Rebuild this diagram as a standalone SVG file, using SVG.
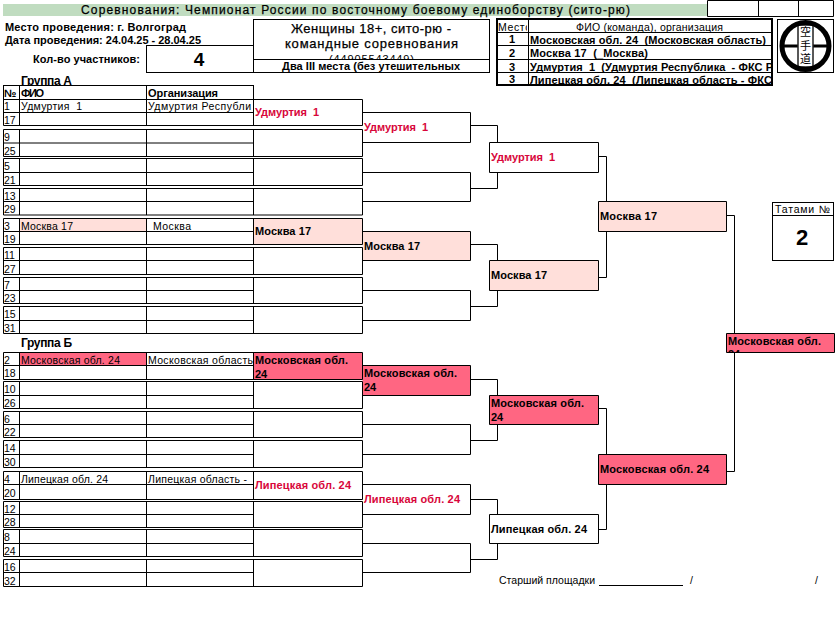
<svg xmlns="http://www.w3.org/2000/svg" width="837" height="631" viewBox="0 0 837 631">
<style>
text{font-family:"Liberation Sans",Arial,sans-serif;font-size:10.5px;fill:#000;white-space:pre}
.b{font-weight:bold;font-size:11px}
.w{fill:#d8063a}
.g{fill:none;stroke:#000;stroke-width:1}
.t{fill:none;stroke:#000;stroke-width:2}
.box{fill:#fff;stroke:#000;stroke-width:1}
.p{fill:#ff6682}
.l{fill:#ffdfda}
.c{text-anchor:middle}
.m{font-size:13px;stroke:#000;stroke-width:.25}
.k{font-family:"Noto Sans CJK JP",sans-serif;font-size:11px;text-anchor:middle}
.h{font-size:12px;font-weight:bold}
</style>
<defs>
<clipPath id="cGroup"><rect x="0" y="70" width="253" height="15"/></clipPath>
<clipPath id="cId"><rect x="254" y="20" width="235" height="39"/></clipPath>
<clipPath id="cNote"><rect x="254" y="60" width="235" height="12"/></clipPath>
<clipPath id="cRes"><rect x="498" y="20" width="273" height="64"/></clipPath>
<clipPath id="cHead"><rect x="498" y="20" width="29" height="12"/></clipPath>
<clipPath id="cFinal"><rect x="727" y="334" width="107" height="18"/></clipPath>
</defs>

<g id="header">
<rect x="3" y="4" width="704" height="12" fill="#c0dcc0"/>
<text x="81" y="14" style="font-size:12px;stroke:#000;stroke-width:.25" textLength="549">Соревнования: Чемпионат России по восточному боевому единоборству (сито-рю)</text>
<path class="g" d="M707.500 .5H833.500V16.500H707.500ZM758.500 .5V16.500M798.500 .5V16.500"/>
<text class="b" x="5" y="31" textLength="181">Место проведения: г. Волгоград</text>
<text class="b" x="5" y="44" textLength="196">Дата проведения: 24.04.25 - 28.04.25</text>
<text class="b" x="33" y="63" textLength="107">Кол-во участников:</text>
</g>

<g id="count">
<rect class="box" x="146.500" y="45.500" width="107" height="27"/>
<text class="c" x="199" y="66" style="font-size:19px;font-weight:bold">4</text>
</g>

<g id="title">
<rect class="box" x="253.500" y="19.500" width="236" height="53"/>
<path class="g" d="M253.500 59.500H489.500"/>
<text class="m" x="291" y="33" textLength="160">Женщины 18+, сито-рю -</text>
<text class="m" x="285" y="48" textLength="173">командные соревнования</text>
<text x="329" y="63" clip-path="url(#cId)" style="font-size:11px" textLength="85">(44905543449)</text>
<text class="b" x="282" y="70" clip-path="url(#cNote)" textLength="178">Два III места (без утешительных</text>
</g>

<g id="results">
<rect x="497" y="19" width="275" height="66" fill="#fff"/>
<path class="g" d="M498 32.500H771M498 45.500H771M498 59.500H771M498 72.500H771M528.500 20V84"/>
<rect class="t" x="497" y="19" width="275" height="66"/>
<text x="498" y="31" clip-path="url(#cHead)" textLength="33">Место</text>
<text x="576" y="31" textLength="147">ФИО (команда), организация</text>
<text class="b c" x="512" y="43">1</text>
<text class="b" x="530" y="44" textLength="236">Московская обл. 24  (Московская область)</text>
<text class="b c" x="512" y="57">2</text>
<text class="b" x="530" y="57" textLength="118">Москва 17  (_Москва)</text>
<text class="b c" x="512" y="71">3</text>
<text class="b" x="530" y="71" clip-path="url(#cRes)" textLength="243">Удмуртия  1  (Удмуртия Республика  - ФКС Р</text>
<text class="b c" x="512" y="83">3</text>
<text class="b" x="530" y="84" clip-path="url(#cRes)" textLength="242">Липецкая обл. 24  (Липецкая область - ФКС</text>
</g>

<g id="logo">
<rect class="box" x="777.500" y="19.500" width="56" height="53"/>
<path d="M782 46H829" stroke="#000" stroke-width="3"/>
<rect x="798" y="25" width="15" height="42" fill="#fff" stroke="#222" stroke-width="1.500"/>
<circle cx="805.500" cy="46" r="23.500" fill="none" stroke="#000" stroke-width="5"/>
<text class="k" x="805.500" y="36">空</text>
<text class="k" x="805.500" y="49.500">手</text>
<text class="k" x="805.500" y="63">道</text>
</g>

<g id="tatami">
<rect class="box" x="772.500" y="202.500" width="61" height="58"/>
<path class="g" d="M772.500 215.500H833.500"/>
<text x="775" y="213" textLength="55">Татами №</text>
<text class="c" x="802" y="245" style="font-size:22px;font-weight:bold">2</text>
</g>

<g id="footer">
<text x="499" y="584" textLength="96">Старший площадки</text>
<path class="g" d="M599 585.500H683"/>
<text x="690" y="584">/</text>
<text x="815" y="584">/</text>
</g>

<g id="group-a">
<text class="h" x="21" y="84.500" clip-path="url(#cGroup)" textLength="51">Группа А</text>
<rect class="box" x="3.500" y="85.500" width="250" height="14"/>
<path class="g" d="M19.500 85.500V99.500M146.500 85.500V99.500"/>
<text class="b" x="4" y="97" textLength="14">№</text>
<text class="b" x="21" y="97" textLength="23">ФИО</text>
<text class="b" x="148" y="97" textLength="70">Организация</text>
</g>
<g id="group-b">
<text class="h" x="21" y="347" textLength="51">Группа Б</text>
</g>

<g id="fills">
<rect class="l" x="19.500" y="218.500" width="127" height="13"/>
<rect class="l" x="253.500" y="218.500" width="109" height="26"/>
<rect class="l" x="362.500" y="231.500" width="108" height="29"/>
<rect class="l" x="489.500" y="260.500" width="109" height="30"/>
<rect class="l" x="598.500" y="201.500" width="128" height="30"/>
<rect class="p" x="19.500" y="352.500" width="127" height="13"/>
<rect class="p" x="253.500" y="352.500" width="109" height="27"/>
<rect class="p" x="362.500" y="365.500" width="108" height="30"/>
<rect class="p" x="489.500" y="395.500" width="109" height="29"/>
<rect class="p" x="598.500" y="454.500" width="128" height="30"/>
<rect class="p" x="726.500" y="333.500" width="108" height="19"/>
</g>

<g id="connectors">
<path class="g" d="M470.500 125.500H497.500V142.500M470.500 188.500H497.500V172.500M470.500 244.500H497.500V260.500M470.500 306.500H497.500V290.500M470.500 379.500H497.500V395.500M470.500 440.500H497.500V424.500M470.500 499.500H497.500V514.500M470.500 559.500H497.500V543.500"/>
<path class="g" d="M598.500 156.500H606.500V201.500M598.500 277.500H606.500V231.500M598.500 408.500H606.500V454.500M598.500 529.500H606.500V484.500"/>
<path class="g" d="M726.500 215.500H734.500V333.500M734.500 352.500V471.500H726.500"/>
</g>

<g id="seeds-a">
<g id="pair-1"><path class="g" d="M3.500 99.500H362.500V125.500H3.500ZM3.500 112.500H253.500M19.500 99.500V125.500M146.500 99.500V125.500M253.500 99.500V125.500"/><text x="4" y="110">1</text><text x="4" y="123.500">17</text><text x="21" y="110" textLength="61">Удмуртия  1</text><text x="148" y="110" textLength="103">Удмуртия Республи</text><text class="b w" x="255" y="116" textLength="64">Удмуртия  1</text></g>
<g id="pair-9"><path class="g" d="M3.500 129.500H362.500V156.500H3.500ZM3.500 143H253.500M19.500 129.500V156.500M146.500 129.500V156.500M253.500 129.500V156.500"/><text x="4" y="141">9</text><text x="4" y="154.500">25</text></g>
<g id="pair-5"><path class="g" d="M3.500 158.500H362.500V185.500H3.500ZM3.500 172.500H253.500M19.500 158.500V185.500M146.500 158.500V185.500M253.500 158.500V185.500"/><text x="4" y="170">5</text><text x="4" y="183.500">21</text></g>
<g id="pair-13"><path class="g" d="M3.500 188.500H362.500V215H3.500ZM3.500 201.500H253.500M19.500 188.500V215M146.500 188.500V215M253.500 188.500V215"/><text x="4" y="199.500">13</text><text x="4" y="213">29</text></g>
<g id="pair-3"><path class="g" d="M3.500 218.500H362.500V244.500H3.500ZM3.500 231.500H253.500M19.500 218.500V244.500M146.500 218.500V244.500M253.500 218.500V244.500"/><text x="4" y="229.500">3</text><text x="4" y="242.500">19</text><text x="21" y="229.500" textLength="52">Москва 17</text><text x="153" y="229.500" textLength="38">Москва</text><text class="b" x="255" y="235" textLength="56">Москва 17</text></g>
<g id="pair-11"><path class="g" d="M3.500 247.500H362.500V274.500H3.500ZM3.500 260.500H253.500M19.500 247.500V274.500M146.500 247.500V274.500M253.500 247.500V274.500"/><text x="4" y="258.500">11</text><text x="4" y="272.500">27</text></g>
<g id="pair-7"><path class="g" d="M3.500 277.500H362.500V303.500H3.500ZM3.500 290.500H253.500M19.500 277.500V303.500M146.500 277.500V303.500M253.500 277.500V303.500"/><text x="4" y="288.500">7</text><text x="4" y="301.500">23</text></g>
<g id="pair-15"><path class="g" d="M3.500 306.500H362.500V333.500H3.500ZM3.500 320.500H253.500M19.500 306.500V333.500M146.500 306.500V333.500M253.500 306.500V333.500"/><text x="4" y="318">15</text><text x="4" y="331.500">31</text></g>
</g>

<g id="seeds-b">
<g id="pair-2"><path class="g" d="M3.500 352.500H362.500V379.500H3.500ZM3.500 365.500H253.500M19.500 352.500V379.500M146.500 352.500V379.500M253.500 352.500V379.500"/><text x="4" y="363.500">2</text><text x="4" y="377">18</text><text x="21" y="363.500" textLength="99">Московская обл. 24</text><text x="148" y="363.500" textLength="105">Московская область</text><text class="b" x="255" y="364" textLength="93">Московская обл.</text><text class="b" x="255" y="378">24</text></g>
<g id="pair-10"><path class="g" d="M3.500 381.500H362.500V408.500H3.500ZM3.500 395.500H253.500M19.500 381.500V408.500M146.500 381.500V408.500M253.500 381.500V408.500"/><text x="4" y="393">10</text><text x="4" y="406.500">26</text></g>
<g id="pair-6"><path class="g" d="M3.500 411.500H362.500V437.500H3.500ZM3.500 424.500H253.500M19.500 411.500V437.500M146.500 411.500V437.500M253.500 411.500V437.500"/><text x="4" y="422.500">6</text><text x="4" y="435.500">22</text></g>
<g id="pair-14"><path class="g" d="M3.500 440.500H362.500V467.500H3.500ZM3.500 454.500H253.500M19.500 440.500V467.500M146.500 440.500V467.500M253.500 440.500V467.500"/><text x="4" y="452">14</text><text x="4" y="465.500">30</text></g>
<g id="pair-4"><path class="g" d="M3.500 471.500H362.500V499.500H3.500ZM3.500 484.500H253.500M19.500 471.500V499.500M146.500 471.500V499.500M253.500 471.500V499.500"/><text x="4" y="482.500">4</text><text x="4" y="497">20</text><text x="21" y="482.500" textLength="87">Липецкая обл. 24</text><text x="148" y="482.500" textLength="99">Липецкая область -</text><text class="b w" x="255" y="489" textLength="96">Липецкая обл. 24</text></g>
<g id="pair-12"><path class="g" d="M3.500 501.500H362.500V527.500H3.500ZM3.500 514.500H253.500M19.500 501.500V527.500M146.500 501.500V527.500M253.500 501.500V527.500"/><text x="4" y="512.500">12</text><text x="4" y="525.500">28</text></g>
<g id="pair-8"><path class="g" d="M3.500 529.500H362.500V556.500H3.500ZM3.500 543.500H253.500M19.500 529.500V556.500M146.500 529.500V556.500M253.500 529.500V556.500"/><text x="4" y="541">8</text><text x="4" y="554.500">24</text></g>
<g id="pair-16"><path class="g" d="M3.500 559.500H362.500V586.500H3.500ZM3.500 572.500H253.500M19.500 559.500V586.500M146.500 559.500V586.500M253.500 559.500V586.500"/><text x="4" y="570.500">16</text><text x="4" y="584.500">32</text></g>
</g>

<g id="round2">
<g id="r2-1"><path class="g" d="M362.500 112.500H470.500V142.500H362.500"/><text class="b w" x="364" y="131" textLength="64">Удмуртия  1</text></g>
<g id="r2-2"><path class="g" d="M362.500 172.500H470.500V201.500H362.500"/></g>
<g id="r2-3"><path class="g" d="M362.500 231.500H470.500V260.500H362.500"/><text class="b" x="364" y="250" textLength="56">Москва 17</text></g>
<g id="r2-4"><path class="g" d="M362.500 290.500H470.500V320.500H362.500"/></g>
<g id="r2-5"><path class="g" d="M362.500 365.500H470.500V395.500H362.500"/><text class="b" x="364" y="377" textLength="93">Московская обл.</text><text class="b" x="364" y="391">24</text></g>
<g id="r2-6"><path class="g" d="M362.500 424.500H470.500V454.500H362.500"/></g>
<g id="r2-7"><path class="g" d="M362.500 484.500H470.500V514.500H362.500"/><text class="b w" x="364" y="503" textLength="96">Липецкая обл. 24</text></g>
<g id="r2-8"><path class="g" d="M362.500 543.500H470.500V572.500H362.500"/></g>
</g>

<g id="round3">
<g id="r3-1"><path class="g" d="M489.500 142.500H598.500V172.500H489.500Z"/><text class="b w" x="491" y="161" textLength="64">Удмуртия  1</text></g>
<g id="r3-2"><path class="g" d="M489.500 260.500H598.500V290.500H489.500Z"/><text class="b" x="491" y="279" textLength="56">Москва 17</text></g>
<g id="r3-3"><path class="g" d="M489.500 395.500H598.500V424.500H489.500Z"/><text class="b" x="491" y="407" textLength="93">Московская обл.</text><text class="b" x="491" y="421">24</text></g>
<g id="r3-4"><path class="g" d="M489.500 514.500H598.500V543.500H489.500Z"/><text class="b" x="491" y="533" textLength="96">Липецкая обл. 24</text></g>
</g>

<g id="round4">
<g id="r4-1"><path class="g" d="M598.500 201.500H726.500V231.500H598.500Z"/><text class="b" x="600" y="220" textLength="57">Москва 17</text></g>
<g id="r4-2"><path class="g" d="M598.500 454.500H726.500V484.500H598.500Z"/><text class="b" x="600" y="473" textLength="109">Московская обл. 24</text></g>
</g>

<g id="final">
<path class="g" d="M726.500 333.500H834.500V352.500H726.500Z"/>
<text class="b" x="728" y="345" textLength="93">Московская обл.</text>
<text class="b" x="728" y="358" clip-path="url(#cFinal)">24</text>
</g>
</svg>
